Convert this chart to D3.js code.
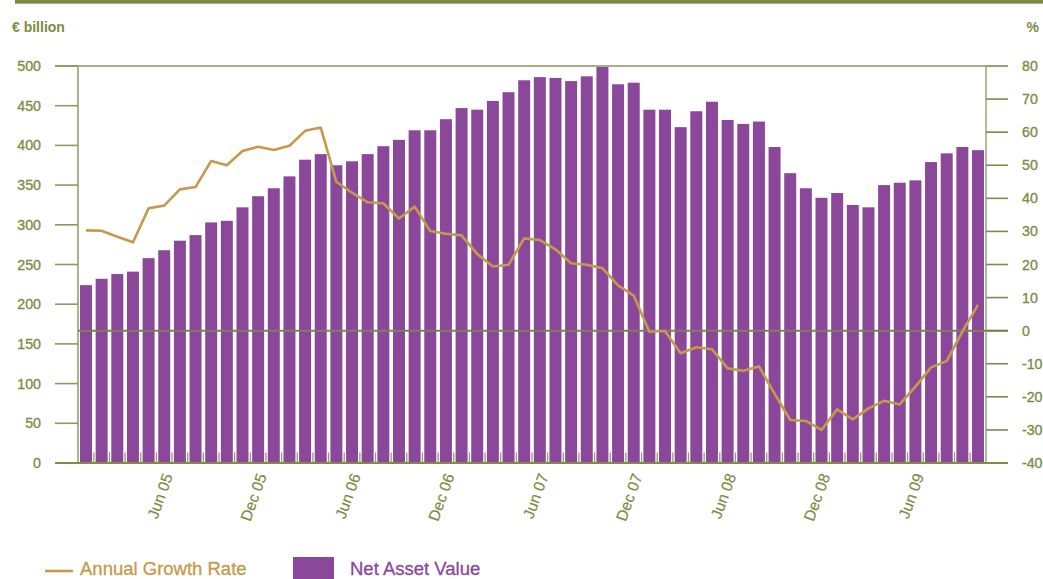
<!DOCTYPE html>
<html>
<head>
<meta charset="utf-8">
<script src="https://cdn.jsdelivr.net/npm/d3@7"></script>
<style>
  html, body { margin: 0; padding: 0; background: #fff; }
  svg { display: block; font-family: "Liberation Sans", Arial, Helvetica, sans-serif; }
</style>
</head>
<body>
<svg id="chart" width="1043" height="579"></svg>
<script>
// ---- Data ----
const monthNames = ["Jan","Feb","Mar","Apr","May","Jun","Jul","Aug","Sep","Oct","Nov","Dec"];
const months = [];
for (let y = 2005; y <= 2009; y++) {
  for (let m = 0; m < 12; m++) {
    if (y === 2009 && m > 9) break;
    months.push(monthNames[m] + " " + String(y).slice(2));
  }
}
const netAssetValue = [
  224, 232, 238, 241, 258, 268, 280, 287, 303, 305,
  322, 336, 346, 361, 382, 389, 375, 380, 389, 399,
  407, 419, 419, 433, 447, 445, 456, 467, 482, 486,
  485, 481, 487, 499, 477, 479, 445, 445, 423, 443,
  455, 432, 427, 430, 398, 365, 346, 334, 340, 325,
  322, 350, 353, 356, 379, 390, 398, 394
];
const growthRate = [
  30.3, 30.2, 28.4, 26.7, 37.0, 37.8, 42.7, 43.4, 51.3, 50.0,
  54.3, 55.6, 54.6, 55.9, 60.4, 61.4, 45.0, 41.7, 38.8, 38.5,
  33.9, 37.5, 30.1, 29.3, 28.8, 23.2, 19.4, 19.9, 27.9, 27.4,
  24.6, 20.4, 19.9, 18.9, 13.7, 10.6, -0.3, -0.1, -6.8, -5.0,
  -5.6, -11.4, -12.1, -10.8, -19.0, -27.0, -27.3, -30.0, -23.8, -26.8,
  -23.5, -21.2, -22.3, -16.9, -11.1, -9.2, -0.3, 7.8
];
const leftTicks = [0, 50, 100, 150, 200, 250, 300, 350, 400, 450, 500];
const rightTicks = [-40, -30, -20, -10, 0, 10, 20, 30, 40, 50, 60, 70, 80];
const xLabels = ["Jun 05","Dec 05","Jun 06","Dec 06","Jun 07","Dec 07","Jun 08","Dec 08","Jun 09"];

// ---- Layout ----
const svg = d3.select("#chart");
const plotL = 78, plotR = 986, plotT = 66, plotB = 463;
const olive = "#7e8c45", oliveLight = "#a7af84", gold = "#c49a4b", purple = "#8b4799";

const x = d3.scaleBand().domain(months).range([plotL, plotR]).paddingInner(0.234).paddingOuter(0.128);
const yL = d3.scaleLinear().domain([0, 500]).range([plotB, plotT]);
const yR = d3.scaleLinear().domain([-40, 80]).range([plotB, plotT]);

// top stripe
svg.append("rect").attr("x", 15).attr("y", 0).attr("width", 1028).attr("height", 3.7).attr("fill", "#7d8a46");

// axis titles
svg.append("text").attr("x", 12).attr("y", 32).attr("fill", olive).attr("font-size", 14).attr("font-weight", "bold").text("€ billion");
svg.append("text").attr("x", 1039).attr("y", 32).attr("text-anchor", "end").attr("fill", olive).attr("font-size", 14).attr("font-weight", "bold").text("%");

// bars
svg.append("g").selectAll("rect").data(months).join("rect")
  .attr("x", d => x(d))
  .attr("y", (d, i) => yL(netAssetValue[i]))
  .attr("width", x.bandwidth())
  .attr("height", (d, i) => yL(0) - yL(netAssetValue[i]))
  .attr("fill", purple);

// small ticks between bars
const gap = x.step() - x.bandwidth();
svg.append("g").selectAll("line").data(months.slice(0, months.length - 1)).join("line")
  .attr("x1", d => x(d) + x.bandwidth() + gap / 2)
  .attr("x2", d => x(d) + x.bandwidth() + gap / 2)
  .attr("y1", plotB - 10.5).attr("y2", plotB)
  .attr("stroke", "#939d68").attr("stroke-width", 1.3);

// frame lines
svg.append("line").attr("x1", 55).attr("x2", plotR).attr("y1", plotT).attr("y2", plotT)
  .attr("stroke", oliveLight).attr("stroke-width", 1.8);
svg.append("line").attr("x1", plotL).attr("x2", plotL).attr("y1", plotT).attr("y2", plotB)
  .attr("stroke", "#98a06c").attr("stroke-width", 1.6);
svg.append("line").attr("x1", plotR).attr("x2", plotR).attr("y1", plotT).attr("y2", plotB)
  .attr("stroke", "#a2aa7c").attr("stroke-width", 1.6);

// left axis ticks and labels
const gl = svg.append("g");
gl.selectAll("line").data(leftTicks).join("line")
  .attr("x1", 55).attr("x2", plotL).attr("y1", d => yL(d)).attr("y2", d => yL(d))
  .attr("stroke", "#8e9860").attr("stroke-width", 1.6);
gl.selectAll("text").data(leftTicks).join("text")
  .attr("x", 41).attr("y", d => yL(d) + 5).attr("text-anchor", "end")
  .attr("fill", olive).attr("stroke", olive).attr("stroke-width", 0.35)
  .attr("font-size", 14.2).text(d => d);

// right axis ticks and labels
const gr = svg.append("g");
gr.selectAll("line").data(rightTicks).join("line")
  .attr("x1", plotR).attr("x2", 1008).attr("y1", d => yR(d)).attr("y2", d => yR(d))
  .attr("stroke", "#7e8a4c").attr("stroke-width", 1.6);
gr.selectAll("text").data(rightTicks).join("text")
  .attr("x", 1022).attr("y", d => yR(d) + 5).attr("text-anchor", "start")
  .attr("fill", olive).attr("stroke", olive).attr("stroke-width", 0.35)
  .attr("font-size", 14.2).text(d => d);

// bottom axis line
svg.append("line").attr("x1", 55).attr("x2", 1008).attr("y1", plotB).attr("y2", plotB)
  .attr("stroke", olive).attr("stroke-width", 1.8);

// zero line
svg.append("line").attr("x1", plotL).attr("x2", 1008).attr("y1", yR(0)).attr("y2", yR(0))
  .attr("stroke", "#7c7f5f").attr("stroke-width", 2);

// growth line
const line = d3.line().x((d, i) => x(months[i]) + x.bandwidth() / 2).y(d => yR(d));
svg.append("path").datum(growthRate).attr("d", line)
  .attr("fill", "none").attr("stroke", gold).attr("stroke-width", 2.6).attr("stroke-linejoin", "round");

// x labels
svg.append("g").selectAll("text").data(xLabels).join("text")
  .attr("transform", d => `translate(${x(d) + x.bandwidth() + gap / 2 + 1},${plotB + 13}) rotate(-70)`)
  .attr("text-anchor", "end")
  .attr("fill", olive).attr("stroke", olive).attr("stroke-width", 0.2)
  .attr("font-size", 15.5).text(d => d);

// legend
svg.append("line").attr("x1", 45).attr("x2", 73).attr("y1", 571).attr("y2", 571)
  .attr("stroke", gold).attr("stroke-width", 2.6);
svg.append("text").attr("x", 80).attr("y", 575).attr("fill", gold).attr("font-size", 18.5)
  .attr("stroke", gold).attr("stroke-width", 0.3).text("Annual Growth Rate");
svg.append("rect").attr("x", 293).attr("y", 557).attr("width", 41).attr("height", 22).attr("fill", purple);
svg.append("text").attr("x", 350).attr("y", 575).attr("fill", purple).attr("font-size", 18.5)
  .attr("stroke", purple).attr("stroke-width", 0.3).text("Net Asset Value");
</script>
</body>
</html>
